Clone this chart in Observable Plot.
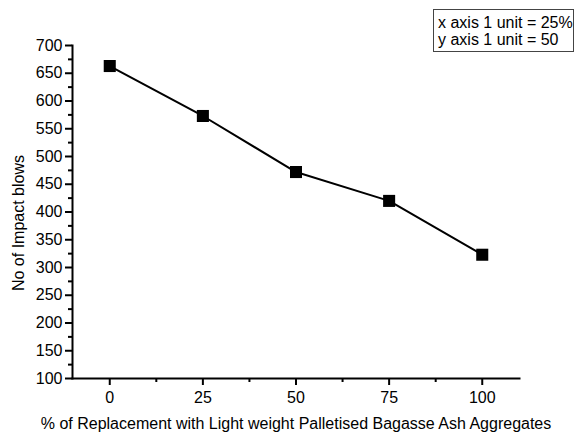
<!DOCTYPE html>
<html><head><meta charset="utf-8">
<script src="https://cdn.jsdelivr.net/npm/d3@7"></script>
<script src="https://cdn.jsdelivr.net/npm/@observablehq/plot@0.6"></script>
<style>
body{margin:0;background:#fff;font-family:"Liberation Sans",Arial,sans-serif;}
#wrap{position:relative;width:575px;height:434px;}
#wrap svg{position:absolute;left:0;top:0;}
#note{position:absolute;left:433px;top:9px;width:135px;height:37px;border:1px solid #444;font-size:16px;line-height:17px;padding:4px 0 0 4px;color:#000;background:#fff;white-space:nowrap;}
</style></head>
<body>
<div id="wrap"><div id="note">x axis 1 unit = 25%<br>y axis 1 unit = 50</div></div>
<script>
const replacement = [0, 25, 50, 75, 100];
const blows = [663, 573, 472, 420, 323];
const xTicks = [0, 25, 50, 75, 100];
const xMinorTicks = [12.5, 37.5, 62.5, 87.5];
const yTicks = [100, 150, 200, 250, 300, 350, 400, 450, 500, 550, 600, 650, 700];
const yMinorTicks = [125, 175, 225, 275, 325, 375, 425, 475, 525, 575, 625, 675];
const xTitle = "% of Replacement with Light weight Palletised Bagasse Ash Aggregates";
const yTitle = "No of Impact blows";

const data = replacement.map((x, i) => ({x, y: blows[i]}));

const chart = Plot.plot({
  width: 575,
  height: 434,
  marginLeft: 72,
  marginRight: 56,
  marginTop: 45,
  marginBottom: 56,
  style: {fontFamily: "Liberation Sans, Arial, sans-serif", fontSize: "16px", color: "#000", background: "transparent"},
  x: {domain: [-10, 110]},
  y: {domain: [100, 700]},
  marks: [
    Plot.axisX({ticks: xTicks, tickSize: 7, tickPadding: 6, strokeWidth: 2, label: null, tickFormat: d => String(d), fontSize: 16}),
    Plot.axisX({ticks: xMinorTicks, tickSize: 4, strokeWidth: 2, label: null, text: null}),
    Plot.axisY({ticks: yTicks, tickSize: 7, tickPadding: 3, strokeWidth: 2, label: null, tickFormat: d => String(d), fontSize: 16}),
    Plot.axisY({ticks: yMinorTicks, tickSize: 4, strokeWidth: 2, label: null, text: null}),
    Plot.frame({anchor: "left", stroke: "#000", strokeWidth: 2}),
    Plot.frame({anchor: "bottom", stroke: "#000", strokeWidth: 2}),
    Plot.line(data, {x: "x", y: "y", stroke: "#000", strokeWidth: 2}),
    Plot.dot(data, {x: "x", y: "y", symbol: "square", r: 6.8, fill: "#000", stroke: "none"}),
    Plot.text([xTitle], {frameAnchor: "bottom", dy: 45, lineAnchor: "middle", textAnchor: "middle", fontSize: 16, fill: "#000"}),
    Plot.text([yTitle], {frameAnchor: "left", dx: -54, dy: 11, rotate: -90, lineAnchor: "middle", textAnchor: "middle", fontSize: 16, fill: "#000"})
  ]
});
document.getElementById("wrap").prepend(chart);
</script>
</body></html>
